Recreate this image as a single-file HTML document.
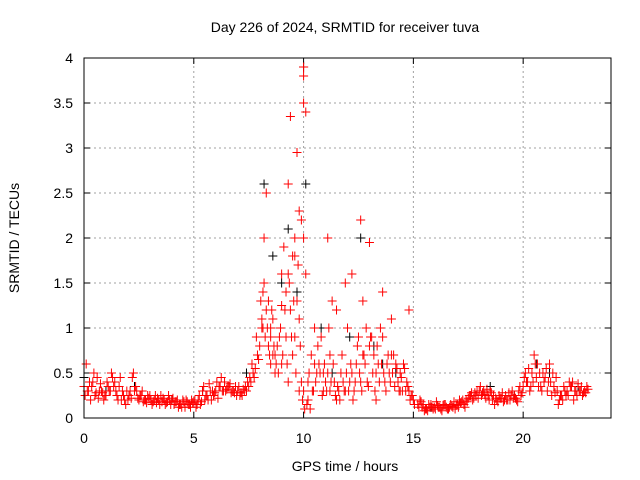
<!DOCTYPE html>
<html><head><meta charset="utf-8"><style>
html,body{margin:0;padding:0;background:#fff}
svg{display:block;font-family:"Liberation Sans",sans-serif}
</style></head><body>
<svg id="chart" width="640" height="480" viewBox="0 0 640 480" xmlns="http://www.w3.org/2000/svg">
<text x="345" y="32" font-size="14" text-anchor="middle">Day 226 of 2024, SRMTID for receiver tuva</text>
<text x="345" y="471" font-size="14" text-anchor="middle">GPS time / hours</text>
<text x="0" y="0" font-size="14" text-anchor="middle" transform="translate(19,238) rotate(-90)">SRMTID / TECUs</text>
<g id="grid"></g>
<g id="ticks"></g>
<g id="black"></g>
<g id="red"></g>
<rect x="84" y="58" width="527" height="360" fill="none" stroke="#000" stroke-width="1"/>
</svg>
<script>
const xTicks=[0,5,10,15,20];
const yTicks=[0,0.5,1,1.5,2,2.5,3,3.5,4];
const yTickLabels=["0","0.5","1","1.5","2","2.5","3","3.5","4"];
const baseTimes=[0,0.2,0.4,0.6,0.8,1.0,1.2,1.4,1.6,1.8,2.0,2.2,2.4,2.6,2.8,3.0,3.2,3.4,3.6,3.8,4.0,4.2,4.4,4.6,4.8,5.0,5.2,5.4,5.6,5.8,6.0,6.2,6.4,6.6,6.8,7.0,7.2,7.4,7.6,7.8,8.0,15.2,15.4,15.6,15.8,16.0,16.2,16.4,16.6,16.8,17.0,17.2,17.4,17.6,17.8,18.0,18.2,18.4,18.6,18.8,19.0,19.2,19.4,19.6,19.8,20.0,20.2,20.4,20.6,20.8,21.0,21.2,21.4,21.6,21.8,22.0,22.2,22.4,22.6,22.8];
const baseA=[0.35,0.3,0.4,0.45,0.3,0.25,0.3,0.4,0.35,0.25,0.2,0.45,0.3,0.25,0.2,0.25,0.2,0.2,0.22,0.18,0.2,0.18,0.15,0.12,0.15,0.18,0.2,0.3,0.25,0.2,0.3,0.35,0.4,0.35,0.3,0.3,0.25,0.3,0.4,0.55,0.8,0.15,0.12,0.1,0.15,0.1,0.12,0.15,0.1,0.12,0.15,0.18,0.2,0.25,0.28,0.3,0.3,0.25,0.2,0.2,0.22,0.25,0.2,0.25,0.3,0.35,0.4,0.5,0.45,0.35,0.45,0.6,0.35,0.15,0.2,0.3,0.35,0.3,0.3,0.3];
const baseB=[0.6,0.2,0.25,0.3,0.2,0.35,0.45,0.25,0.2,0.15,0.3,0.3,0.2,0.18,0.25,0.15,0.17,0.25,0.15,0.2,0.15,0.12,0.2,0.18,0.2,0.12,0.15,0.2,0.38,0.25,0.22,0.3,0.32,0.28,0.35,0.25,0.3,0.35,0.5,0.7,1.1,0.2,0.08,0.15,0.1,0.14,0.08,0.12,0.15,0.1,0.2,0.15,0.22,0.2,0.3,0.25,0.22,0.3,0.15,0.25,0.18,0.2,0.3,0.2,0.25,0.5,0.3,0.7,0.35,0.5,0.3,0.25,0.45,0.25,0.3,0.4,0.2,0.38,0.25,0.35];
const baseC=[0.25,0.4,0.5,0.22,0.28,0.4,0.5,0.3,0.45,0.2,0.25,0.5,0.22,0.3,0.17,0.2,0.25,0.15,0.2,0.25,0.22,0.2,0.12,0.2,0.12,0.2,0.25,0.35,0.2,0.3,0.4,0.45,0.3,0.38,0.28,0.35,0.32,0.4,0.6,0.9,1.3,0.12,0.15,0.08,0.12,0.18,0.1,0.15,0.12,0.18,0.12,0.2,0.18,0.28,0.25,0.35,0.26,0.2,0.25,0.18,0.28,0.2,0.25,0.22,0.35,0.45,0.55,0.4,0.6,0.3,0.55,0.4,0.28,0.2,0.35,0.25,0.4,0.25,0.35,0.28];
const baseD=[0.3,0.35,0.28,0.38,0.25,0.3,0.35,0.2,0.3,0.3,0.22,0.35,0.25,0.2,0.22,0.18,0.22,0.18,0.17,0.15,0.18,0.15,0.18,0.15,0.17,0.15,0.18,0.25,0.3,0.28,0.35,0.3,0.35,0.3,0.25,0.28,0.35,0.45,0.45,0.65,1.0,0.18,0.1,0.12,0.12,0.12,0.14,0.1,0.13,0.14,0.17,0.12,0.25,0.22,0.22,0.28,0.32,0.28,0.22,0.22,0.2,0.28,0.22,0.18,0.28,0.4,0.35,0.6,0.5,0.4,0.4,0.5,0.3,0.25,0.25,0.35,0.3,0.3,0.28,0.32];
const stormTimes=[8.1,8.2,8.2,8.3,8.3,8.4,8.4,8.5,8.5,8.6,8.6,8.7,8.8,8.9,9.0,9.0,9.1,9.2,9.2,9.3,9.3,9.4,9.4,9.5,9.5,9.6,9.6,9.7,9.7,9.8,9.8,9.9,9.9,10.0,10.0,10.0,10.0,10.0,10.1,10.1,10.2,10.3,10.4,10.5,10.6,10.7,10.8,10.9,11.0,11.1,11.1,11.2,11.3,11.4,11.5,11.6,11.7,11.8,11.9,12.0,12.1,12.2,12.3,12.4,12.5,12.6,12.7,12.7,12.8,12.9,13.0,13.1,13.2,13.3,13.4,13.5,13.6,13.7,13.8,13.9,14.0,14.1,14.2,14.3,14.4,14.5,14.6,14.7,14.8,14.9,15.0,8.5,8.7,9.0,9.3,9.6,9.8,10.2,10.5,10.9,11.2,11.5,11.9,12.2,12.6,13.0,13.3,13.6,14.0,14.4,14.8];
const stormVals=[1.0,2.0,1.5,2.5,1.2,1.3,0.8,0.9,0.6,0.7,1.1,0.5,0.8,0.9,1.6,0.6,1.9,1.4,0.9,2.6,1.6,3.35,1.2,1.8,0.7,2.0,0.9,2.95,1.3,2.3,1.1,2.2,0.4,3.9,3.8,3.5,2.0,0.3,3.4,1.6,0.4,0.1,0.3,1.0,0.5,0.6,0.9,0.3,0.4,2.0,0.5,0.7,1.3,0.4,0.2,0.3,0.5,0.4,1.5,1.0,0.4,0.5,0.3,0.6,0.9,2.2,1.3,0.7,0.6,0.4,1.95,0.9,0.7,0.5,0.6,1.0,0.9,0.4,0.6,0.5,1.1,0.7,0.6,0.4,0.5,0.3,0.55,0.4,0.3,0.25,0.2,1.0,0.7,1.25,0.4,1.8,0.3,0.2,0.6,0.5,0.3,1.2,0.3,1.6,0.4,0.8,0.2,1.4,0.7,0.3,1.2,0.25];
const stormTimes2=[8.15,8.25,8.35,8.45,8.55,8.65,8.75,8.85,8.95,9.05,9.15,9.25,9.35,9.45,9.55,9.65,9.75,9.85,9.95,10.05,10.15,10.25,10.35,10.45,10.55,10.65,10.75,10.85,10.95,11.05,11.15,11.25,11.35,11.45,11.55,11.65,11.75,11.85,11.95,12.05,12.15,12.25,12.35,12.45,12.55,12.65,12.75,12.85,12.95,13.05,13.15,13.25,13.35,13.45,13.55,13.65,13.75,13.85,13.95,14.05,14.15,14.25,14.35,14.45,14.55,14.65,14.75,14.85,14.95,15.05];
const stormVals2=[1.4,0.9,1.0,0.7,1.2,0.8,0.6,0.5,1.0,0.7,1.2,0.6,1.5,0.9,1.3,0.5,1.7,0.8,0.2,0.1,0.15,0.5,0.7,0.3,0.4,0.8,0.5,0.25,0.6,0.3,1.0,0.4,0.6,0.25,0.35,0.2,0.7,0.3,0.5,0.3,0.6,0.2,0.4,0.8,0.5,0.3,0.7,1.0,0.35,0.9,0.5,0.3,0.8,0.4,0.6,0.5,0.3,0.7,0.4,0.5,0.35,0.55,0.3,0.45,0.6,0.3,0.35,0.2,0.25,0.15];
const blackTimes=[0,1.0,2.3,4.0,5.4,7.4,8.2,8.6,9.0,9.3,9.7,10.0,10.1,10.8,11.3,12.1,12.6,13.2,13.6,14.2,15.8,18.5,19.6,20.6,21.2,22.5];
const blackVals=[0.45,0.3,0.35,0.2,0.3,0.5,2.6,1.8,1.5,2.1,1.4,3.9,2.6,1.0,0.5,0.9,2.0,0.8,0.6,0.5,0.12,0.35,0.25,0.6,0.5,0.35];

const NS="http://www.w3.org/2000/svg";
const X0=84,X1=611,Y0=418,Y1=58;
const xs=t=>X0+t/24*(X1-X0);
const ys=v=>Y0-v/4*(Y0-Y1);
const grid=document.getElementById('grid'),ticks=document.getElementById('ticks');
function line(g,x1,y1,x2,y2,st,dash){const l=document.createElementNS(NS,'line');l.setAttribute('x1',x1);l.setAttribute('y1',y1);l.setAttribute('x2',x2);l.setAttribute('y2',y2);l.setAttribute('stroke',st);l.setAttribute('stroke-width',1);if(dash)l.setAttribute('stroke-dasharray',dash);g.appendChild(l);return l;}
function txt(g,x,y,s,anchor){const t=document.createElementNS(NS,'text');t.setAttribute('x',x);t.setAttribute('y',y);t.setAttribute('font-size','14');t.setAttribute('text-anchor',anchor);t.textContent=s;g.appendChild(t);return t;}
xTicks.forEach(v=>{const x=xs(v);
 if(v>0){const gl=line(grid,x,Y0,x,Y1,'#a0a0a0','2,3');}
 line(ticks,x,Y0,x,Y0-6,'#000');line(ticks,x,Y1,x,Y1+6,'#000');
 const t=txt(ticks,x,443,String(v),'middle');
 
 });
yTicks.forEach((v,i)=>{const y=ys(v);
 if(v>0&&v<4){const gl=line(grid,X0,y,X1,y,'#a0a0a0','2,3');}
 line(ticks,X0,y,X0+6,y,'#000');line(ticks,X1,y,X1-6,y,'#000');
 const t=txt(ticks,73,y+5,yTickLabels[i],'end');
 
 });
function cross(g,t,v,col,name){const x=xs(t),y=ys(v);
 const p=document.createElementNS(NS,'path');
 p.setAttribute('d',`M${x-4.5},${y}H${x+4.5}M${x},${y-4.5}V${y+4.5}`);
 p.setAttribute('stroke',col);p.setAttribute('stroke-width','1');
 
 
 g.appendChild(p);}
const bg=document.getElementById('black'),rg=document.getElementById('red');
blackTimes.forEach((t,i)=>cross(bg,t,blackVals[i],'#000','black-point'));
baseTimes.forEach((t,i)=>{
 cross(rg,t,baseA[i],'#f00','red-point');
 cross(rg,t+0.1,baseB[i],'#f00','red-point');
 cross(rg,t+0.05,baseC[i],'#f00','red-point');
 cross(rg,t+0.15,baseD[i],'#f00','red-point');});
stormTimes.forEach((t,i)=>cross(rg,t,stormVals[i],'#f00','red-point'));
stormTimes2.forEach((t,i)=>cross(rg,t,stormVals2[i],'#f00','red-point'));
</script>
</body></html>
